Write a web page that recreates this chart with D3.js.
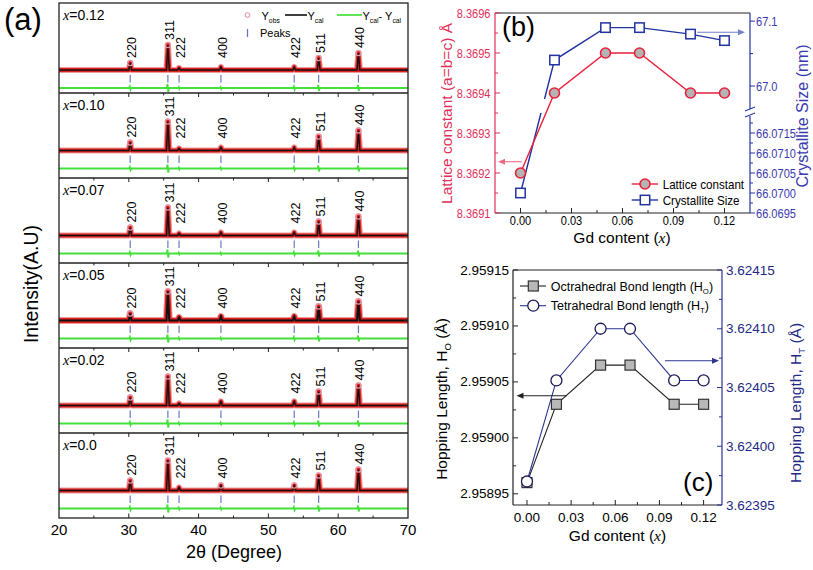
<!DOCTYPE html>
<html><head><meta charset="utf-8">
<script src="https://cdn.jsdelivr.net/npm/d3@7"></script>
<style>body{margin:0;background:#fff} svg{display:block} text{font-family:"Liberation Sans",Arial,sans-serif}</style>
</head><body><script>
// ---------- DATA ----------
// panel (a): XRD reflections
const twoTheta = [30.2, 35.6, 37.2, 43.2, 53.7, 57.2, 62.9];
const hkl = ["220","311","222","400","422","511","440"];
const sampleX = ["0.12","0.10","0.07","0.05","0.02","0.0"];
const int012 = [7, 25, 2, 3, 3, 12, 17];
const int010 = [8, 29, 2, 3, 3, 14, 20];
const int007 = [8, 28, 2, 3, 3, 14, 19];
const int005 = [7, 29, 3, 4, 4, 14, 19];
const int002 = [8, 29, 2, 4, 4, 14, 20];
const int000 = [10, 30, 3, 5, 5, 15, 21];
const diffAmp = [1.5, 4, 1, 1, 1.5, 3, 3];
const xTicksA = [20, 30, 40, 50, 60, 70];
const xMinorA = [25, 35, 45, 55, 65];
// panel (b)
const gdX = [0, 0.02, 0.05, 0.07, 0.10, 0.12];
const latticeConst = [8.3692, 8.3694, 8.3695, 8.3695, 8.3694, 8.3694];
const crystSize = [66.0700, 67.04, 67.09, 67.09, 67.08, 67.07];
const gdTicks = [0, 0.03, 0.06, 0.09, 0.12];
const gdMinor = [0.015, 0.045, 0.075, 0.105];
const latticeTicks = [8.3691, 8.3692, 8.3693, 8.3694, 8.3695, 8.3696];
const sizeTicksUpper = [67.0, 67.1];
const sizeMinorUpper = [67.05];
const sizeTicksLower = [66.0695, 66.0700, 66.0705, 66.0710, 66.0715];
const sizeMinorLower = [66.06975, 66.07025, 66.07075, 66.07125, 66.07175];
// panel (c)
const hopO = [2.95896, 2.95903, 2.959065, 2.959065, 2.95903, 2.95903];
const hopT = [3.62397, 3.624056, 3.62410, 3.62410, 3.624056, 3.624056];
const hopOTicks = [2.95895, 2.95900, 2.95905, 2.95910, 2.95915];
const hopTTicks = [3.62395, 3.62400, 3.62405, 3.62410, 3.62415];

// ---------- HELPERS ----------
const svg = d3.select("body").append("svg").attr("width", 813).attr("height", 570);

function T(parent, x, y, s, o = {}) {
  const size = o.size || 12;
  const g = parent.append("g").attr("transform", `translate(${x},${y})` + (o.rot ? ` rotate(${o.rot})` : ""));
  const t = g.append("text").attr("font-size", size).attr("fill", o.fill || "#000")
    .attr("text-anchor", o.anchor || "start");
  if (o.sx) t.attr("transform", `scale(${o.sx},1)`);
  if (o.dy) t.attr("dy", o.dy);
  if (o.family) t.attr("font-family", o.family);
  if (Array.isArray(s)) {
    s.forEach(p => {
      const ts = t.append("tspan").text(p.t);
      if (p.sub) ts.attr("font-size", size * 0.62);
      if (p.dy !== undefined) ts.attr("dy", p.dy);
      if (p.it) ts.attr("font-style", "italic").attr("font-family", "Liberation Serif, 'Times New Roman', serif");
    });
  } else t.text(s);
  return t;
}
function seg(g, x1, y1, x2, y2, c, w) {
  return g.append("line").attr("x1", x1).attr("y1", y1).attr("x2", x2).attr("y2", y2)
    .attr("stroke", c).attr("stroke-width", w || 1);
}
function arrow(g, x1, x2, y, c) {
  const dir = x2 > x1 ? 1 : -1;
  seg(g, x1, y, x2 - dir * 5, y, c, 1.1);
  g.append("path").attr("d", `M${x2},${y} L${x2 - dir * 7},${y - 3} L${x2 - dir * 7},${y + 3} Z`).attr("fill", c);
}

// ---------- PANEL (a) ----------
const A = svg.append("g");
const xA = d3.scaleLinear().domain([20, 70]).range([59, 408]);
const tops = [3, 93, 178, 263, 348, 433], bottomA = 518;
const ints = [int012, int010, int007, int005, int002, int000];
const hw = 0.2;
ints.forEach((vals, i) => {
  const top = tops[i];
  const base = i === 0 ? top + 67 : top + 57.5;
  const y = d3.scaleLinear().domain([0, 10]).range([base, base - 10]);
  const prof = [[20, 0]];
  twoTheta.forEach((p, k) => prof.push([p - hw, 0], [p, vals[k]], [p + hw, 0]));
  prof.push([70, 0]);
  const line = d3.line().x(d => xA(d[0])).y(d => y(d[1]));
  A.append("path").attr("d", line(prof)).attr("fill", "none").attr("stroke", "#ee9a9a")
    .attr("stroke-width", i === 3 ? 7 : 6.2).attr("stroke-linejoin", "round");
  A.append("path").attr("d", line(prof)).attr("fill", "none").attr("stroke", "#dd2020")
    .attr("stroke-width", i === 3 ? 5 : 4).attr("stroke-linejoin", "round");
  A.append("path").attr("d", line(prof)).attr("fill", "none").attr("stroke", "#111")
    .attr("stroke-width", i === 3 ? 2 : 1.4);
  twoTheta.forEach((p, k) => {
    if (vals[k] >= 5) A.append("circle").attr("cx", xA(p)).attr("cy", y(vals[k])).attr("r", 2.6)
      .attr("fill", "none").attr("stroke", "#e597a8").attr("stroke-width", 1.2);
  });
  twoTheta.forEach(p => seg(A, xA(p), y(-5), xA(p), y(-12.5), "#6a78c0", 1.2));
  const diff = [[20, -18]];
  twoTheta.forEach((p, k) => {
    const a = diffAmp[k];
    diff.push([p - 0.15, -18], [p - 0.05, -18 + a], [p + 0.05, -18 - a], [p + 0.15, -18]);
  });
  diff.push([70, -18]);
  A.append("path").attr("d", line(diff)).attr("fill", "none").attr("stroke", "#44e03a").attr("stroke-width", 1.8);
  twoTheta.forEach((p, k) => {
    const yb = Math.min(y(vals[k]) - 5, base - 12);
    T(A, xA(p) + 1.5, yb, hkl[k], { rot: -90, size: 12.5, dy: "0.36em" });
  });
  T(A, 63, top + 17, [{ t: "x", it: true }, { t: "=" + sampleX[i] }],
    { size: 14, family: "Liberation Serif, 'Times New Roman', serif" });
  seg(A, 408, base, 404, base, "#222", 1);
});
// frame
A.append("rect").attr("x", 59).attr("y", 3).attr("width", 349).attr("height", 515)
  .attr("fill", "none").attr("stroke", "#222").attr("stroke-width", 1.3);
tops.slice(1).forEach(t => {
  seg(A, 59, t, 408, t, "#222", 1.3);
  xTicksA.concat(xMinorA).forEach(v => {
    if (v > 20 && v < 70) seg(A, xA(v), t, xA(v), t + (v % 10 === 0 ? 4 : 2.5), "#222", 1);
  });
});
xTicksA.concat(xMinorA).forEach(v => {
  if (v > 20 && v < 70) seg(A, xA(v), bottomA, xA(v), bottomA - (v % 10 === 0 ? 4.5 : 2.5), "#222", 1);
});
xTicksA.forEach(v => T(A, xA(v), 535, String(v), { size: 15, anchor: "middle" }));
T(A, 234, 558, "2θ (Degree)", { size: 18, anchor: "middle" });
T(A, 37.5, 284, "Intensity(A.U)", { size: 19.5, anchor: "middle", rot: -90 });
T(A, 4, 30, "(a)", { size: 31 });
// legend (a)
A.append("circle").attr("cx", 247.5).attr("cy", 15).attr("r", 2.3).attr("fill", "none")
  .attr("stroke", "#e5a0b0").attr("stroke-width", 1.1);
T(A, 261.5, 20, [{ t: "Y" }, { t: "obs", sub: true, dy: 3 }], { size: 11 });
seg(A, 285, 15, 307, 15, "#111", 1.6);
T(A, 307.5, 20, [{ t: "Y" }, { t: "cal", sub: true, dy: 3 }], { size: 11 });
seg(A, 337, 15, 362, 15, "#44e03a", 1.7);
T(A, 362.5, 20, [{ t: "Y" }, { t: "cal", sub: true, dy: 3 }, { t: "- Y", dy: -3 }, { t: "cal", sub: true, dy: 3 }], { size: 11 });
seg(A, 247.5, 29, 247.5, 37, "#6a78c0", 1.3);
T(A, 260, 37, "Peaks", { size: 11 });

// ---------- PANEL (b) ----------
const B = svg.append("g");
const xB = d3.scaleLinear().domain([-0.015, 0.135]).range([495, 750]);
const yBL = d3.scaleLinear().domain([8.3691, 8.3696]).range([213, 13]);
const yBRup = d3.scaleLinear().domain([66.96, 67.1125]).range([112, 13]);
const yBRlo = d3.scaleLinear().domain([66.0695, 66.0720]).range([213, 113]);
const yBR = v => (v > 66.5 ? yBRup(v) : yBRlo(v));
const redB = "#e8203c", redT = "#e0305a", bluB = "#2233a0", bluT = "#3a3ab0";
// frame
seg(B, 495, 13, 750, 13, "#222", 1.2);
seg(B, 495, 213, 750, 213, "#222", 1.2);
seg(B, 495, 13, 495, 213, redT, 1.2);
seg(B, 750, 13, 750, 109, bluB, 1.2);
seg(B, 750, 116, 750, 213, bluB, 1.2);
seg(B, 745, 111, 755, 107, bluB, 1.1);
seg(B, 745, 117, 755, 113, bluB, 1.1);
gdTicks.forEach(v => { seg(B, xB(v), 213, xB(v), 208, "#222", 1); T(B, xB(v), 225, d3.format(".2f")(v), { size: 13, anchor: "middle", sx: 0.85 }); });
gdMinor.forEach(v => seg(B, xB(v), 213, xB(v), 210, "#222", 1));
latticeTicks.forEach(v => { seg(B, 495, yBL(v), 500, yBL(v), redT, 1); T(B, 490.5, yBL(v) + 4.5, d3.format(".4f")(v), { size: 13.5, anchor: "end", fill: redT, sx: 0.82 }); });
latticeTicks.slice(0, -1).forEach(v => seg(B, 495, yBL(v + 0.00005), 498, yBL(v + 0.00005), redT, 1));
sizeTicksUpper.forEach(v => { seg(B, 750, yBRup(v), 755, yBRup(v), bluB, 1); T(B, 756, yBRup(v) + 4.5, d3.format(".1f")(v), { size: 13.5, fill: bluT, sx: 0.82 }); });
sizeMinorUpper.forEach(v => seg(B, 750, yBRup(v), 753, yBRup(v), bluB, 1));
sizeTicksLower.forEach(v => { seg(B, 750, yBRlo(v), 755, yBRlo(v), bluB, 1); T(B, 756, yBRlo(v) + 4.5, d3.format(".4f")(v), { size: 13.5, fill: bluT, sx: 0.82 }); });
sizeMinorLower.forEach(v => seg(B, 750, yBRlo(v), 753, yBRlo(v), bluB, 1));
T(B, 452, 113.5, "Lattice constant (a=b=c) Å", { size: 15.5, anchor: "middle", rot: -90, fill: redT });
T(B, 808, 116, "Crystallite Size (nm)", { size: 16, anchor: "middle", rot: -90, fill: bluT });
T(B, 622, 243, [{ t: "Gd content (" }, { t: "x", it: true }, { t: ")" }], { size: 15.5, anchor: "middle" });
T(B, 502, 36, "(b)", { size: 27 });
// clip for broken blue line
const defs = svg.append("defs");
const cp = defs.append("clipPath").attr("id", "brk");
cp.append("rect").attr("x", 480).attr("y", 0).attr("width", 300).attr("height", 99);
cp.append("rect").attr("x", 480).attr("y", 113).attr("width", 300).attr("height", 120);
const lbL = d3.line().x((d, i) => xB(gdX[i])).y(d => yBL(d));
const lbR = d3.line().x((d, i) => xB(gdX[i])).y(d => yBR(d));
B.append("path").attr("d", lbR(crystSize)).attr("fill", "none").attr("stroke", bluB).attr("stroke-width", 1.4).attr("clip-path", "url(#brk)");
B.append("path").attr("d", lbL(latticeConst)).attr("fill", "none").attr("stroke", redB).attr("stroke-width", 1.4);
B.selectAll(".lc").data(latticeConst).enter().append("circle").attr("cx", (d, i) => xB(gdX[i])).attr("cy", d => yBL(d))
  .attr("r", 5).attr("fill", "#b4b4b4").attr("stroke", redB).attr("stroke-width", 1.6);
B.selectAll(".cs").data(crystSize).enter().append("rect").attr("x", (d, i) => xB(gdX[i]) - 4.7).attr("y", d => yBR(d) - 4.7)
  .attr("width", 9.4).attr("height", 9.4).attr("fill", "#fff").attr("stroke", bluB).attr("stroke-width", 1.5);
arrow(B, 521.7, 498, 161.7, "#ec6c84");
arrow(B, 697, 745, 32.3, "#7080c8");
// legend (b)
seg(B, 631.7, 184, 658, 184, redB, 1.4);
B.append("circle").attr("cx", 645).attr("cy", 184).attr("r", 5).attr("fill", "#b4b4b4").attr("stroke", redB).attr("stroke-width", 1.6);
T(B, 662.7, 188.5, "Lattice constant", { size: 12.5, sx: 0.93 });
seg(B, 631.7, 200, 658, 200, bluB, 1.4);
B.append("rect").attr("x", 640.3).attr("y", 195.3).attr("width", 9.4).attr("height", 9.4).attr("fill", "#fff").attr("stroke", bluB).attr("stroke-width", 1.5);
T(B, 662.7, 204.5, "Crystallite Size", { size: 12.5, sx: 0.93 });

// ---------- PANEL (c) ----------
const C = svg.append("g");
const xC = d3.scaleLinear().domain([-0.0095, 0.1325]).range([513, 722]);
const yCL = d3.scaleLinear().domain([2.95894, 2.95915]).range([505, 270]);
const yCR = d3.scaleLinear().domain([3.62395, 3.62415]).range([505, 270]);
const navyL = "#2b3590", navyT = "#1f2a85";
seg(C, 513, 270, 722, 270, "#222", 1.2);
seg(C, 513, 505, 722, 505, "#222", 1.2);
seg(C, 513, 270, 513, 505, "#222", 1.2);
seg(C, 722, 270, 722, 505, navyL, 1.2);
gdTicks.forEach(v => { seg(C, xC(v), 505, xC(v), 500, "#222", 1); T(C, xC(v), 522, d3.format(".2f")(v), { size: 13.5, anchor: "middle" }); });
gdMinor.forEach(v => seg(C, xC(v), 505, xC(v), 502, "#222", 1));
hopOTicks.forEach(v => { seg(C, 513, yCL(v), 518, yCL(v), "#222", 1); T(C, 509, yCL(v) + 4.5, d3.format(".5f")(v), { size: 13.5, anchor: "end" }); });
hopOTicks.slice(0, -1).forEach(v => seg(C, 513, yCL(v + 0.000025), 516, yCL(v + 0.000025), "#222", 1));
hopTTicks.forEach(v => { seg(C, 722, yCR(v), 717, yCR(v), navyL, 1); T(C, 726, yCR(v) + 4.5, d3.format(".5f")(v), { size: 13.5, fill: navyT }); });
hopTTicks.slice(0, -1).forEach(v => seg(C, 722, yCR(v + 0.000025), 719, yCR(v + 0.000025), navyL, 1));
T(C, 447, 399, [{ t: "Hopping Length, H" }, { t: "O", sub: true, dy: 4 }, { t: " (Å)", dy: -4 }], { size: 15.5, anchor: "middle", rot: -90 });
T(C, 800.5, 403, [{ t: "Hopping Length, H" }, { t: "T", sub: true, dy: 4 }, { t: " (Å)", dy: -4 }], { size: 15.5, anchor: "middle", rot: -90, fill: navyT });
T(C, 617.5, 541, [{ t: "Gd content (" }, { t: "x", it: true }, { t: ")" }], { size: 15.5, anchor: "middle" });
T(C, 683, 491, "(c)", { size: 26 });
const lcO = d3.line().x((d, i) => xC(gdX[i])).y(d => yCL(d));
const lcT = d3.line().x((d, i) => xC(gdX[i])).y(d => yCR(d));
C.append("path").attr("d", lcO(hopO)).attr("fill", "none").attr("stroke", "#222").attr("stroke-width", 1.1);
C.append("path").attr("d", lcT(hopT)).attr("fill", "none").attr("stroke", navyL).attr("stroke-width", 1.1);
C.selectAll(".ho").data(hopO).enter().append("rect").attr("x", (d, i) => xC(gdX[i]) - 5).attr("y", d => yCL(d) - 5)
  .attr("width", 10).attr("height", 10).attr("fill", "#b8b8b8").attr("stroke", "#333").attr("stroke-width", 1.2);
C.selectAll(".ht").data(hopT).enter().append("circle").attr("cx", (d, i) => xC(gdX[i])).attr("cy", d => yCR(d))
  .attr("r", 5.5).attr("fill", "#fff").attr("stroke", "#1a1a5a").attr("stroke-width", 1.3);
arrow(C, 566.7, 516.5, 395.7, "#222");
arrow(C, 665, 719, 360.7, navyL);
// legend (c)
seg(C, 520, 286, 546, 286, "#222", 1.1);
C.append("rect").attr("x", 528.3).attr("y", 281).attr("width", 10).attr("height", 10).attr("fill", "#b8b8b8").attr("stroke", "#333").attr("stroke-width", 1.2);
T(C, 550.7, 290.5, [{ t: "Octrahedral Bond length (H" }, { t: "O", sub: true, dy: 3 }, { t: ")", dy: -3 }], { size: 12.5 });
seg(C, 520, 305.7, 546, 305.7, navyL, 1.1);
C.append("circle").attr("cx", 533.3).attr("cy", 305.7).attr("r", 5.5).attr("fill", "#fff").attr("stroke", "#1a1a5a").attr("stroke-width", 1.3);
T(C, 550.7, 310, [{ t: "Tetrahedral Bond length (H" }, { t: "T", sub: true, dy: 3 }, { t: ")", dy: -3 }], { size: 12.5 });
</script></body></html>
